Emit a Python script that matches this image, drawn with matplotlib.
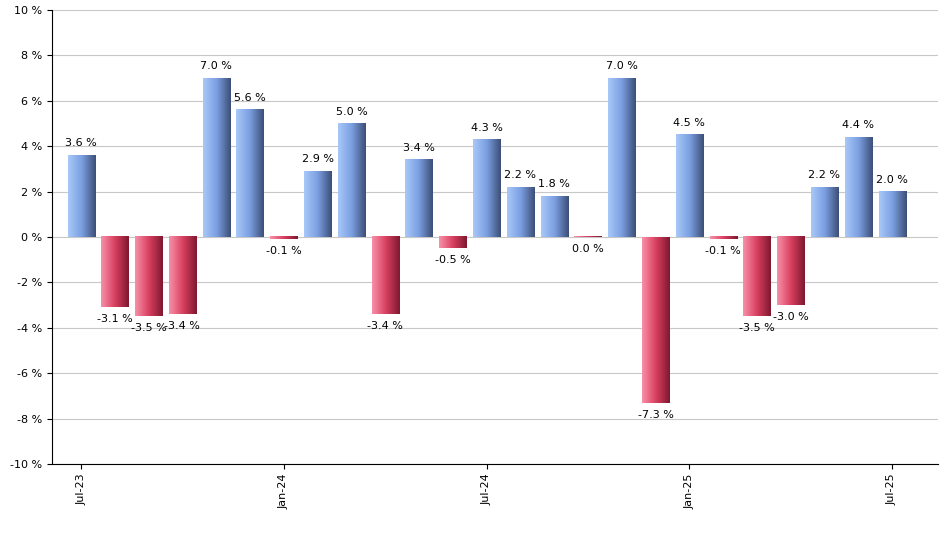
import matplotlib
matplotlib.use('Agg')
import matplotlib.pyplot as plt
import numpy as np
from matplotlib.colors import LinearSegmentedColormap

months = ['Jul-23', 'Aug-23', 'Sep-23', 'Oct-23', 'Nov-23', 'Dec-23', 'Jan-24', 'Feb-24',
          'Mar-24', 'Apr-24', 'May-24', 'Jun-24', 'Jul-24', 'Aug-24', 'Sep-24', 'Oct-24',
          'Nov-24', 'Dec-24', 'Jan-25', 'Feb-25', 'Mar-25', 'Apr-25', 'May-25', 'Jun-25', 'Jul-25']
values = [3.6, -3.1, -3.5, -3.4, 7.0, 5.6, -0.1, 2.9, 5.0, -3.4, 3.4, -0.5, 4.3, 2.2, 1.8,
          -0.02, 7.0, -7.3, 4.5, -0.1, -3.5, -3.0, 2.2, 4.4, 2.0]
labels = ['3.6 %', '-3.1 %', '-3.5 %', '-3.4 %', '7.0 %', '5.6 %', '-0.1 %', '2.9 %', '5.0 %',
          '-3.4 %', '3.4 %', '-0.5 %', '4.3 %', '2.2 %', '1.8 %', '0.0 %', '7.0 %', '-7.3 %',
          '4.5 %', '-0.1 %', '-3.5 %', '-3.0 %', '2.2 %', '4.4 %', '2.0 %']
tick_pos = [0, 6, 12, 18, 24]

blue = LinearSegmentedColormap.from_list('b', ['#a8c8f8', '#7a9ee0', '#3c4f78'])
red = LinearSegmentedColormap.from_list('r', ['#f890a8', '#d84060', '#801830'])
grad = np.linspace(0, 1, 64).reshape(1, -1)

fig = plt.figure(figsize=(9.4, 5.5), dpi=100)
ax = fig.add_axes([52 / 940, 86 / 550, 886 / 940, 454 / 550])
w = 0.8
for i, v in enumerate(values):
    cmap = blue if v > 0 else red
    ax.imshow(grad, cmap=cmap, aspect='auto', extent=(i - w / 2, i + w / 2, min(0, v), max(0, v)),
              zorder=3, interpolation='bicubic')
    if v > 0:
        ax.text(i, v + 0.3, labels[i], ha='center', va='bottom', fontsize=8, zorder=4)
    else:
        ax.text(i, v - 0.3, labels[i], ha='center', va='top', fontsize=8, zorder=4)

ax.set_xlim(-0.86, 25.36)
ax.set_ylim(-10, 10)
ax.set_yticks(range(-10, 11, 2))
ax.set_yticklabels([f'{t} %' for t in range(-10, 11, 2)], fontsize=8)
ax.set_xticks(tick_pos)
ax.set_xticklabels([months[i] for i in tick_pos], rotation=90, fontsize=8)
ax.grid(axis='y', color='#c8c8c8', lw=0.8, zorder=0)
for s in ['top', 'right']:
    ax.spines[s].set_visible(False)
fig.savefig('out.png', dpi=100)
